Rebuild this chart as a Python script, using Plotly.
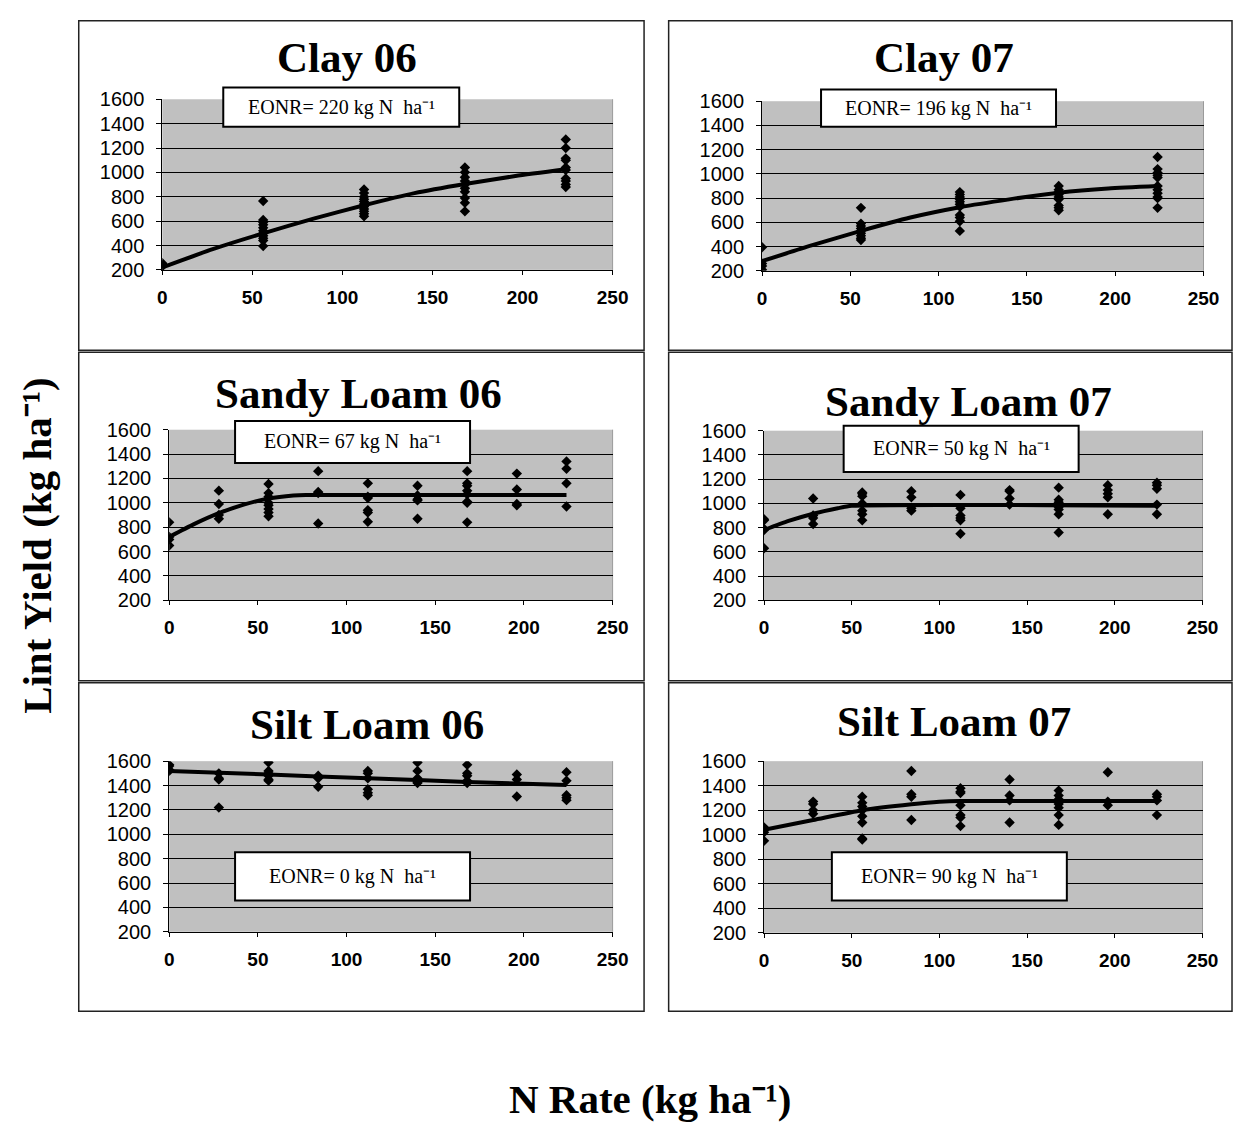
import plotly.graph_objects as go

W, H = 1249, 1134

# ---- data -------------------------------------------------------------
PANEL_TITLES = ["Clay 06", "Clay 07", "Sandy Loam 06", "Sandy Loam 07",
                "Silt Loam 06", "Silt Loam 07"]
EONR_VALUES = [220, 196, 67, 50, 0, 90]

CLAY06_RATES = [0, 56, 112, 168, 224]
CLAY06_YIELDS = [
    [255, 240, 230],
    [765, 610, 590, 570, 545, 520, 500, 480, 460, 440, 395],
    [860, 830, 800, 780, 760, 740, 720, 700, 680, 660, 640],
    [1040, 1000, 960, 930, 900, 870, 840, 790, 750, 680],
    [1270, 1200, 1115, 1100, 1040, 1020, 950, 930, 900, 880],
]
CLAY06_FIT_X = [0, 28, 56, 84, 112, 140, 168, 196, 224]
CLAY06_FIT_Y = [220, 370, 500, 620, 730, 830, 905, 970, 1025]

CLAY07_RATES = [0, 56, 112, 168, 224]
CLAY07_YIELDS = [
    [395, 260, 240, 210],
    [720, 590, 570, 550, 530, 510, 490, 470, 455],
    [850, 830, 810, 790, 770, 750, 730, 660, 640, 610, 530],
    [900, 870, 850, 830, 810, 790, 740, 720, 700],
    [1140, 1040, 1010, 990, 970, 900, 870, 840, 810, 800, 720],
]
CLAY07_FIT_X = [0, 28, 56, 84, 112, 140, 168, 196, 224]
CLAY07_FIT_Y = [280, 410, 530, 640, 725, 790, 845, 880, 900]

SANDY06_RATES = [0, 28, 56, 84, 112, 140, 168, 196, 224]
SANDY06_YIELDS = [
    [840, 720, 700, 650],
    [1100, 990, 900, 870],
    [1155, 1080, 1050, 1000, 980, 950, 920, 890],
    [1260, 1090, 1080, 830],
    [1160, 1050, 1040, 940, 920, 845],
    [1140, 1060, 1030, 1020, 870],
    [1260, 1160, 1140, 1100, 1070, 1010, 1000, 840],
    [1240, 1110, 990, 980],
    [1340, 1280, 1160, 970],
]
SANDY06_FIT_X = [0, 14, 28, 42, 56, 70, 77, 224]
SANDY06_FIT_Y = [720, 825, 915, 985, 1035, 1060, 1065, 1065]

SANDY07_RATES = [0, 28, 56, 84, 112, 140, 168, 196, 224]
SANDY07_YIELDS = [
    [870, 860, 790, 780, 630],
    [1040, 900, 880, 830],
    [1090, 1080, 1060, 1000, 940, 910, 860],
    [1100, 1050, 960, 940],
    [1070, 960, 900, 880, 860, 750],
    [1110, 1100, 1040, 990],
    [1130, 1030, 1010, 990, 970, 950, 910, 760],
    [1150, 1110, 1080, 1050, 910],
    [1170, 1150, 1120, 990, 910],
]
SANDY07_FIT_X = [0, 14, 28, 42, 50, 224]
SANDY07_FIT_Y = [780, 855, 915, 960, 980, 980]

SILT06_RATES = [0, 28, 56, 84, 112, 140, 168, 196, 224]
SILT06_YIELDS = [
    [1570, 1560, 1530, 1520],
    [1500, 1460, 1450, 1220],
    [1590, 1520, 1500, 1480, 1450, 1440],
    [1480, 1460, 1390],
    [1520, 1500, 1460, 1370, 1340, 1320],
    [1590, 1520, 1460, 1430, 1420],
    [1570, 1500, 1480, 1440, 1420],
    [1490, 1450, 1310],
    [1510, 1440, 1320, 1300, 1280],
]
SILT06_FIT_X = [0, 56, 112, 168, 224]
SILT06_FIT_Y = [1520, 1490, 1460, 1430, 1405]

SILT07_RATES = [0, 28, 56, 84, 112, 140, 168, 196, 224]
SILT07_YIELDS = [
    [1060, 1050, 1040, 1020, 950],
    [1270, 1250, 1200, 1170],
    [1310, 1260, 1230, 1200, 1150, 1100, 970, 960],
    [1520, 1330, 1310, 1120],
    [1380, 1350, 1340, 1240, 1160, 1140, 1070],
    [1450, 1320, 1280, 1100],
    [1360, 1320, 1290, 1250, 1220, 1160, 1080],
    [1510, 1270, 1240],
    [1330, 1310, 1280, 1160],
]
SILT07_FIT_X = [0, 28, 56, 84, 100, 112, 224]
SILT07_FIT_Y = [1040, 1120, 1200, 1248, 1268, 1275, 1275]

Y_TICKS = [200, 400, 600, 800, 1000, 1200, 1400, 1600]
X_TICKS = [0, 50, 100, 150, 200, 250]

PANELS = [
    (CLAY06_RATES, CLAY06_YIELDS, CLAY06_FIT_X, CLAY06_FIT_Y),
    (CLAY07_RATES, CLAY07_YIELDS, CLAY07_FIT_X, CLAY07_FIT_Y),
    (SANDY06_RATES, SANDY06_YIELDS, SANDY06_FIT_X, SANDY06_FIT_Y),
    (SANDY07_RATES, SANDY07_YIELDS, SANDY07_FIT_X, SANDY07_FIT_Y),
    (SILT06_RATES, SILT06_YIELDS, SILT06_FIT_X, SILT06_FIT_Y),
    (SILT07_RATES, SILT07_YIELDS, SILT07_FIT_X, SILT07_FIT_Y),
]

# ---- layout geometry (pixels) -----------------------------------------
# plot areas: (left, right, top, bottom)
PLOT_BOXES = [
    (160, 618, 90, 264), (770, 1219, 92, 265),
    (167, 618, 427, 601), (772, 1218, 428, 601),
    (167, 618, 765, 939), (772, 1218, 765, 940),
]
# outer frames: (left, right, top, bottom)
FRAMES = [
    (75, 650, 10, 346), (675, 1248, 10, 346),
    (75, 650, 348, 683), (675, 1248, 348, 683),
    (75, 650, 685, 1020), (675, 1248, 685, 1020),
]
# panel title centres (x, y)
TITLE_POS = [(348, 47), (955, 47), (360, 390), (980, 398), (368, 728), (965, 725)]
# EONR boxes: (left, right, top, bottom)
EONR_BOXES = [
    (222, 462, 78, 118), (830, 1069, 80, 118),
    (234, 473, 418, 461), (853, 1092, 423, 470),
    (234, 473, 858, 907), (841, 1080, 858, 907),
]

SERIF = "Liberation Serif, Times New Roman, serif"


def px(x):
    return x / W


def py(y):
    return 1 - y / H


fig = go.Figure()
shapes = []
annotations = []

for i, (rates, yields, fx, fy) in enumerate(PANELS):
    n = i + 1
    xa = "x" if n == 1 else f"x{n}"
    ya = "y" if n == 1 else f"y{n}"
    sx, sy = [], []
    for r, ys in zip(rates, yields):
        for v in ys:
            sx.append(r)
            sy.append(v)
    fig.add_trace(go.Scatter(
        x=sx, y=sy, mode="markers", xaxis=xa, yaxis=ya,
        marker=dict(symbol="diamond", size=8, color="black"),
        showlegend=False, hoverinfo="x+y"))
    fig.add_trace(go.Scatter(
        x=fx, y=fy, mode="lines", xaxis=xa, yaxis=ya,
        line=dict(color="black", width=4, shape="spline", smoothing=0.6),
        showlegend=False, hoverinfo="skip"))

    l, r, t, b = PLOT_BOXES[i]
    key = "" if n == 1 else str(n)
    fig.update_layout(**{
        f"xaxis{key}": dict(
            domain=[px(l), px(r)], anchor=ya, range=[0, 250],
            tickvals=X_TICKS, showgrid=False, zeroline=False,
            showline=True, linecolor="black", linewidth=1,
            ticks="outside", ticklen=4, tickcolor="black",
            ticklabelstandoff=6,
            tickfont=dict(family="Liberation Sans Narrow, Arial Narrow, Arial",
                          size=19, color="black", weight="bold")),
        f"yaxis{key}": dict(
            domain=[py(b), py(t)], anchor=xa, range=[200, 1600],
            tickvals=Y_TICKS, showgrid=True, gridcolor="black", gridwidth=1,
            zeroline=False, showline=True, linecolor="black", linewidth=1,
            ticks="outside", ticklen=5, tickcolor="black",
            ticklabelstandoff=8,
            tickfont=dict(family="Liberation Sans, Arial", size=20, color="black")),
    })
    # light border on the right side of the plot area
    shapes.append(dict(type="line", xref="paper", yref="paper",
                       x0=px(r), x1=px(r), y0=py(b), y1=py(t),
                       line=dict(color="#9a9a9a", width=1), layer="below"))

    # outer panel frame
    fl, fr, ft, fb = FRAMES[i]
    shapes.append(dict(type="rect", xref="paper", yref="paper",
                       x0=px(fl), x1=px(fr), y0=py(fb), y1=py(ft),
                       line=dict(color="#222222", width=1.5),
                       fillcolor="rgba(0,0,0,0)", layer="below"))

    # panel title
    tx, ty = TITLE_POS[i]
    annotations.append(dict(
        x=px(tx), y=py(ty), xref="paper", yref="paper", showarrow=False,
        text=f"<b>{PANEL_TITLES[i]}</b>", xanchor="center", yanchor="middle",
        font=dict(family=SERIF, size=43, color="black")))

    # EONR label box
    el, er, et, eb = EONR_BOXES[i]
    shapes.append(dict(type="rect", xref="paper", yref="paper",
                       x0=px(el), x1=px(er), y0=py(eb), y1=py(et),
                       line=dict(color="black", width=2), fillcolor="white",
                       layer="above"))
    annotations.append(dict(
        x=px((el + er) / 2), y=py((et + eb) / 2), xref="paper", yref="paper",
        showarrow=False, xanchor="center", yanchor="middle",
        text=f"EONR= {EONR_VALUES[i]} kg N  ha⁻¹",
        font=dict(family=SERIF, size=20, color="black")))

# shared axis titles
annotations.append(dict(
    x=px(33), y=py(545), xref="paper", yref="paper", showarrow=False,
    textangle=-90, xanchor="center", yanchor="middle",
    text="<b>Lint Yield (kg ha⁻¹)</b>",
    font=dict(family=SERIF, size=41, color="black")))
annotations.append(dict(
    x=px(657), y=py(1110), xref="paper", yref="paper", showarrow=False,
    xanchor="center", yanchor="middle",
    text="<b>N Rate (kg ha⁻¹)</b>",
    font=dict(family=SERIF, size=41, color="black")))

fig.update_layout(
    width=W, height=H, margin=dict(l=0, r=0, t=0, b=0),
    paper_bgcolor="white", plot_bgcolor="#c0c0c0",
    shapes=shapes, annotations=annotations,
    showlegend=False,
)

fig.write_html("out.html", config={"displayModeBar": False})
